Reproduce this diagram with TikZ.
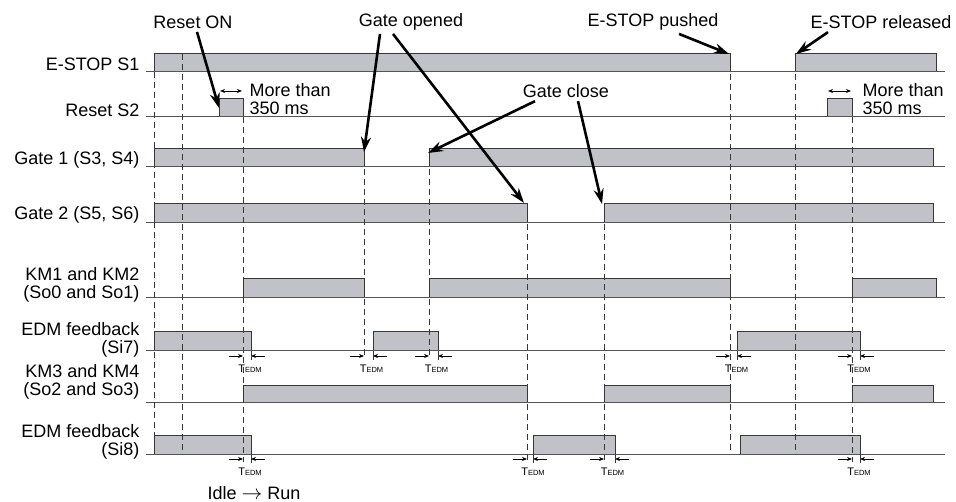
\documentclass[tikz,border=0pt]{standalone}
\usepackage{fontspec}
\setmainfont{Liberation Sans}
\usetikzlibrary{arrows.meta}
\definecolor{sigfill}{RGB}{192,194,200}
\definecolor{sigedge}{RGB}{55,55,55}

\begin{document}
\begin{tikzpicture}[x=1pt,y=-1pt,>=Stealth,
    font=\fontsize{18}{18}\selectfont,
    pulse/.style={fill=sigfill,draw=sigedge,line width=1pt},
    rail/.style={draw=sigedge!85,line width=1pt},
    guide/.style={draw=sigedge,line width=0.8pt,dash pattern=on 6pt off 4pt},
    callout/.style={line width=2.6pt,-{Stealth[length=15pt,width=10pt]}},
    span/.style={line width=0.9pt,{Stealth[length=5pt,width=4pt]}-{Stealth[length=5pt,width=4pt]}},
    gap/.style={line width=0.8pt,-{Stealth[length=5pt,width=4pt]}},
    lbl/.style={anchor=east,align=right},
    tedm/.style={font=\fontsize{11}{11}\selectfont,inner sep=0pt}]
\useasboundingbox (0,0) rectangle (956,502);

% signal pulses: base/top/left/right
\foreach \b/\t/\l/\r in {72/54/154/730, 72/54/795/936,
    117/99/219/243, 117/99/827/852,
    167/149/154/364, 167/149/429/933,
    223/204/154/527, 223/204/604/933,
    298/279/243/364, 298/279/429/730, 298/279/852/936,
    351/332/154/251, 351/332/373/438, 351/332/737/860,
    403/386/243/527, 403/386/604/730, 403/386/852/933,
    454/436/154/251, 454/436/533/615, 454/436/740/860}
  \draw[pulse] (\l,\b) -- (\l,\t) -- (\r,\t) -- (\r,\b);

% base lines
\foreach \b in {72,117,167,223,298,351,403,454}
  \draw[rail] (146,\b) -- (945,\b);

% dashed time marks
\foreach \x/\a/\z in {154/72/454, 182/54/454, 243/117/462, 364/149/358,
    429/149/358, 527/204/462, 604/204/462, 730/54/454, 795/54/454, 852/117/462}
  \draw[guide] (\x,\a) -- (\x,\z);

% T_EDM delays: mark/edge/base
\foreach \d/\e/\b [count=\i] in {243/251/351, 364/373/351, 429/438/351, 730/737/351,
    852/860/351, 243/251/454, 527/533/454, 604/615/454, 852/860/454} {
  \draw[gap] (\d-14,\b+5) -- (\d,\b+5);
  \draw[gap] (\e+14,\b+5) -- (\e,\b+5);
  \draw[line width=0.8pt,sigedge] (\e,\b) -- (\e,\b+9);
  \node[tedm] (t\i) at ({(\d+\e)/2+3},\b+18) {T{\fontsize{7.5}{7.5}\selectfont EDM}};
}

% signal names
\node[lbl] (s1) at (143,64) {E-STOP S1};
\node[lbl] (s2) at (143,110) {Reset S2};
\node[lbl] (g1) at (143,160) {Gate 1 (S3, S4)};
\node[lbl] (g2) at (143,215) {Gate 2 (S5, S6)};
\node[lbl] (kma) at (143,285) {KM1 and KM2\\(So0 and So1)};
\node[lbl] (si7) at (143,340) {EDM feedback\\(Si7)};
\node[lbl] (kmb) at (143,382) {KM3 and KM4\\(So2 and So3)};
\node[lbl] (si8) at (143,442) {EDM feedback\\(Si8)};

% 350 ms hints
\draw[span] (220,91) -- (242,91);
\node[anchor=west,align=left] (m1) at (246,99) {More than\\350 ms};
\draw[span] (828,91) -- (851,91);
\node[anchor=west,align=left] (m2) at (859,99) {More than\\350 ms};

% callouts
\node (ron) at (193,22) {Reset ON};
\node (gop) at (411,22) {Gate opened};
\node (gcl) at (566,91) {Gate close};
\node (epu) at (653,22) {E-STOP pushed};
\node (ere) at (881,22) {E-STOP released};
\coordinate (pS2) at (219,108);
\coordinate (pG1a) at (364,152);
\coordinate (pG2a) at (524,203);
\coordinate (pG1b) at (428,153);
\coordinate (pG2b) at (602,204);
\coordinate (pS1a) at (729,54);
\coordinate (pS1b) at (796,54);
\draw[callout] ([xshift=4pt]ron.south) -- (pS2);
\draw[callout] ([xshift=-31pt]gop.south) -- (pG1a);
\draw[callout] ([xshift=-18pt]gop.south) -- (pG2a);
\draw[callout] ([xshift=-31pt]gcl.south) -- (pG1b);
\draw[callout] ([xshift=12pt]gcl.south) -- (pG2b);
\draw[callout] ([xshift=26pt]epu.south) -- (pS1a);
\draw[callout] ([xshift=-53pt]ere.south) -- (pS1b);

\node (idle) at (254,493) {Idle\hspace{5pt}{\fontsize{22}{22}\selectfont$\rightarrow$}\hspace{5pt}Run};
\end{tikzpicture}
\end{document}
